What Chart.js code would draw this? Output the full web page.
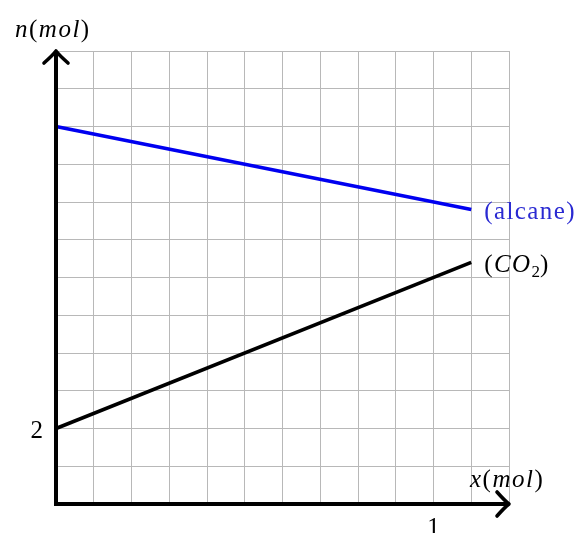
<!DOCTYPE html>
<html>
<head>
<meta charset="utf-8">
<script src="https://cdn.jsdelivr.net/npm/chart.js@4/dist/chart.umd.min.js"></script>
<style>
html,body{margin:0;padding:0;background:#fff;}
</style>
</head>
<body>
<div id="wrap" style="position:relative;width:587px;height:533px;">
<canvas id="c" width="587" height="533" style="position:absolute;left:0;top:0;"></canvas>
<div id="yTitle" style="position:absolute;left:0;top:0;white-space:nowrap;font-family:'Liberation Serif',serif;font-size:25px;line-height:25px;letter-spacing:1.5px;color:#000"></div>
<div id="xTitle" style="position:absolute;left:0;top:0;white-space:nowrap;font-family:'Liberation Serif',serif;font-size:25px;line-height:25px;letter-spacing:1.5px;color:#000"></div>
<div id="yTick" style="position:absolute;left:0;top:0;white-space:nowrap;font-family:'Liberation Serif',serif;font-size:25px;line-height:25px;color:#000"></div>
<div id="xTick" style="position:absolute;left:0;top:0;white-space:nowrap;font-family:'Liberation Serif',serif;font-size:25px;line-height:25px;color:#000"></div>
<div id="s0" style="position:absolute;left:0;top:0;white-space:nowrap;font-family:'Liberation Serif',serif;font-size:25px;line-height:25px;letter-spacing:1.4px;color:#2a2ad2"></div>
<div id="s1" style="position:absolute;left:0;top:0;white-space:nowrap;font-family:'Liberation Serif',serif;font-size:25px;line-height:25px;letter-spacing:1.4px;color:#000"></div>
</div>
<script>
// ---- data ----
const xValues = [0, 1.1];
const alkaneValues = [10, 7.8];
const co2Values = [2, 6.4];
const xTickValues = [1];
const xTickLabels = ['1'];
const yTickValues = [2];
const yTickLabels = ['2'];
const seriesNames = ['(alcane)', '(CO2)'];
const seriesHtml = ['(alcane)', '(<i>CO</i><sub style="font-size:17px;vertical-align:-5px;line-height:0;letter-spacing:0">2</sub>)'];
const yTitleHtml = '<i>n</i>(<i>mol</i>)';
const xTitleHtml = '<i>x</i>(<i>mol</i>)';

function place(id, html, x, y, ax, ay) {
  const d = document.getElementById(id);
  d.innerHTML = html;
  d.style.left = x + 'px';
  d.style.top = y + 'px';
  d.style.transform = 'translate(' + (-ax * 100) + '%,' + (-ay * 100) + '%)';
}

const axesPlugin = {
  id: 'axesPlugin',
  afterDatasetsDraw(chart) {
    const ctx = chart.ctx;
    const a = chart.chartArea;
    const xs = chart.scales.x, ys = chart.scales.y;
    const ox = xs.getPixelForValue(0), oy = ys.getPixelForValue(0);
    ctx.save();
    ctx.strokeStyle = '#000';
    ctx.lineWidth = 4;
    ctx.lineCap = 'butt';
    ctx.beginPath();
    ctx.moveTo(ox, a.top + 1);
    ctx.lineTo(ox, oy + 2);
    ctx.moveTo(ox - 2, oy);
    ctx.lineTo(a.right - 1, oy);
    ctx.stroke();
    ctx.lineCap = 'round';
    ctx.lineJoin = 'round';
    ctx.lineWidth = 3.6;
    const tx = ox, ty = a.top;
    ctx.beginPath();
    ctx.moveTo(tx - 12, ty + 12);
    ctx.quadraticCurveTo(tx - 3, ty + 4, tx, ty);
    ctx.quadraticCurveTo(tx + 3, ty + 4, tx + 12, ty + 12);
    ctx.stroke();
    const rx = a.right, ry = oy;
    ctx.beginPath();
    ctx.moveTo(rx - 12, ry - 12);
    ctx.quadraticCurveTo(rx - 4, ry - 3, rx, ry);
    ctx.quadraticCurveTo(rx - 4, ry + 3, rx - 12, ry + 12);
    ctx.stroke();
    ctx.restore();
  }
};

const chart = new Chart(document.getElementById('c'), {
  type: 'scatter',
  data: {
    datasets: [
      {
        label: seriesNames[0],
        data: xValues.map((x, i) => ({x, y: alkaneValues[i]})),
        showLine: true,
        borderColor: '#0000f0',
        borderWidth: 3.6,
        pointRadius: 0,
        clip: false
      },
      {
        label: seriesNames[1],
        data: xValues.map((x, i) => ({x, y: co2Values[i]})),
        showLine: true,
        borderColor: '#000000',
        borderWidth: 3.6,
        pointRadius: 0,
        clip: false
      }
    ]
  },
  options: {
    responsive: false,
    animation: false,
    layout: {padding: {top: 51, right: 78, left: 0, bottom: 0}},
    plugins: {legend: {display: false}, tooltip: {enabled: false}},
    scales: {
      x: {
        type: 'linear',
        min: 0, max: 1.2,
        afterFit(s) { s.height = 29; },
        border: {display: false},
        grid: {color: '#b8b8b8', lineWidth: 1, drawTicks: false},
        ticks: {stepSize: 0.1, autoSkip: false, maxRotation: 0, callback() { return ''; }}
      },
      y: {
        type: 'linear',
        min: 0, max: 12,
        afterFit(s) { s.width = 56; },
        border: {display: false},
        grid: {color: '#b8b8b8', lineWidth: 1, drawTicks: false},
        ticks: {stepSize: 1, autoSkip: false, callback() { return ''; }}
      }
    }
  },
  plugins: [axesPlugin]
});

(function placeLabels() {
  const xs = chart.scales.x, ys = chart.scales.y;
  const a = chart.chartArea;
  const ox = xs.getPixelForValue(0), oy = ys.getPixelForValue(0);
  place('yTitle', yTitleHtml, ox - 41, a.top - 23, 0, 0.5);
  place('xTitle', xTitleHtml, a.right - 39, oy - 26, 0, 0.5);
  place('yTick', yTickLabels[0], ox - 13, ys.getPixelForValue(yTickValues[0]), 1, 0.5);
  place('xTick', xTickLabels[0], xs.getPixelForValue(xTickValues[0]), oy + 22, 0.5, 0.5);
  const lastX = xs.getPixelForValue(xValues[xValues.length - 1]) + 13;
  place('s0', seriesHtml[0], lastX, ys.getPixelForValue(alkaneValues[alkaneValues.length - 1]), 0, 0.5);
  place('s1', seriesHtml[1], lastX, ys.getPixelForValue(co2Values[co2Values.length - 1]) + 1, 0, 0.5);
})();
</script>
</body>
</html>
